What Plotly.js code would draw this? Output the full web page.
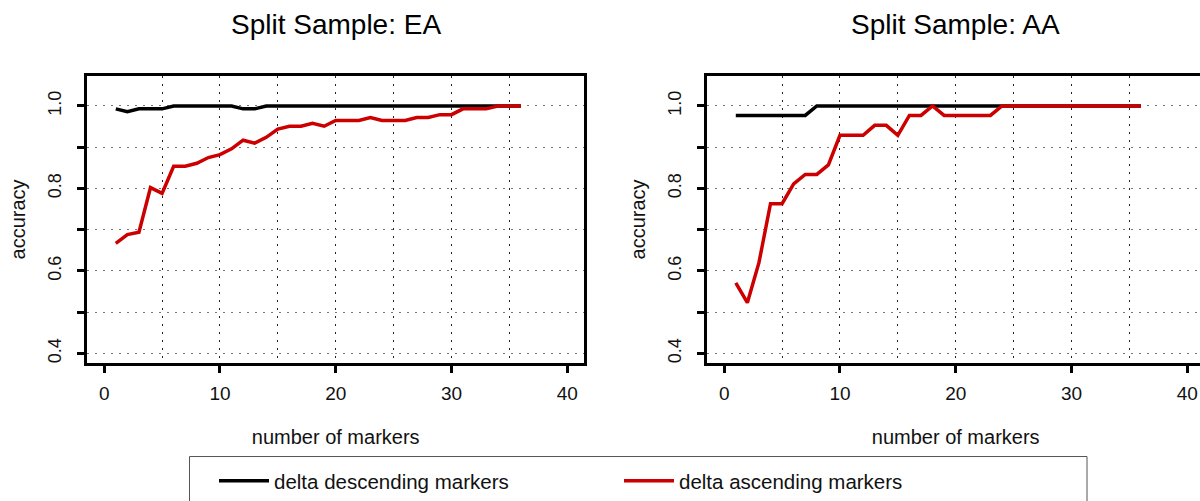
<!DOCTYPE html>
<html>
<head>
<meta charset="utf-8">
<script src="https://cdn.plot.ly/plotly-3.0.1.min.js"></script>
<style>
  html, body { margin: 0; padding: 0; overflow: hidden; background: #fff; }
  #chart { width: 1240px; height: 501px; }
</style>
</head>
<body>
<div id="chart"></div>
<script>
// ---- data ----
const markers = [1,2,3,4,5,6,7,8,9,10,11,12,13,14,15,16,17,18,19,20,21,22,23,24,25,26,27,28,29,30,31,32,33,34,35,36];

const eaDescending = [0.993,0.986,0.993,0.993,0.993,1,1,1,1,1,1,0.993,0.993,1,1,1,1,1,1,1,1,1,1,1,1,1,1,1,1,1,1,1,1,1,1,1];
const eaAscending  = [0.667,0.688,0.694,0.802,0.788,0.854,0.854,0.861,0.875,0.882,0.896,0.917,0.910,0.924,0.944,0.951,0.951,0.958,0.951,0.965,0.965,0.965,0.972,0.965,0.965,0.965,0.972,0.972,0.979,0.979,0.993,0.993,0.993,1,1,1];

const aaDescending = [0.977,0.977,0.977,0.977,0.977,0.977,0.977,1,1,1,1,1,1,1,1,1,1,1,1,1,1,1,1,1,1,1,1,1,1,1,1,1,1,1,1,1];
const aaAscending  = [0.571,0.523,0.620,0.763,0.763,0.811,0.834,0.834,0.857,0.929,0.929,0.929,0.953,0.953,0.929,0.977,0.977,1,0.977,0.977,0.977,0.977,0.977,1,1,1,1,1,1,1,1,1,1,1,1,1];

const panelTitles = ['Split Sample: EA', 'Split Sample: AA'];
const seriesNames = ['delta descending markers', 'delta ascending markers'];
const xTickVals = [0, 10, 20, 30, 40];
const xGridVals = [5, 10, 15, 20, 25, 30, 35];
const yTickVals = [0.4, 0.5, 0.6, 0.7, 0.8, 0.9, 1.0];
const yTickText = ['0.4', '', '0.6', '', '0.8', '', '1.0'];

// ---- layout geometry ----
const W = 1240, H = 501;
const FONT = 'Liberation Sans, Arial, Helvetica, sans-serif';
const BLACK = '#000000', RED = '#cc0000';

const leftDom = [87.2 / W, 584.2 / W];
const rightDom = [707.2 / W, 1204.2 / W];
const yDom = [(H - 367.8) / H, (H - 77.2) / H];
const xRange = [-1.47, 41.47];
const yRange = [0.3776, 1.0724];

function mk(x, y, name, color, xa, ya, show) {
  return { x: x, y: y, name: name, type: 'scatter', mode: 'lines',
    line: { color: color, width: 3.5 }, xaxis: xa, yaxis: ya,
    showlegend: show, legendgroup: name, hoverinfo: 'x+y+name' };
}

const traces = [
  mk(markers, eaDescending, seriesNames[0], BLACK, 'x', 'y', true),
  mk(markers, eaAscending, seriesNames[1], RED, 'x', 'y', true),
  mk(markers, aaDescending, seriesNames[0], BLACK, 'x2', 'y2', false),
  mk(markers, aaAscending, seriesNames[1], RED, 'x2', 'y2', false)
];

function xAxis(dom, anchor) {
  return {
    domain: dom, anchor: anchor, range: xRange, fixedrange: true,
    tickmode: 'array', tickvals: xTickVals, ticks: 'outside', ticklen: 7, tickwidth: 3,
    tickcolor: BLACK, showgrid: false, zeroline: false,
    showline: true, mirror: true, linecolor: BLACK, linewidth: 3,
    tickfont: { family: FONT, size: 19, color: '#111' },
    ticklabelstandoff: 5,
    minor: { tickmode: 'array', tickvals: xGridVals, ticks: '', showgrid: true,
             gridcolor: '#222', gridwidth: 1, griddash: '2px,6px' },
    title: { text: 'number of markers', font: { family: FONT, size: 20, color: '#111' }, standoff: 27 }
  };
}
function yAxis(anchor) {
  return {
    domain: yDom, anchor: anchor, range: yRange, fixedrange: true,
    tickmode: 'array', tickvals: yTickVals, ticktext: yTickText, tickangle: -90,
    ticks: 'outside', ticklen: 7, tickwidth: 3, tickcolor: BLACK,
    showgrid: true, gridcolor: '#777', gridwidth: 1, griddash: '2px,6px',
    zeroline: false, showline: true, mirror: true, linecolor: BLACK, linewidth: 3,
    tickfont: { family: FONT, size: 18, color: '#111' },
    ticklabelstandoff: 9,
    title: { text: 'accuracy', font: { family: FONT, size: 20, color: '#111' }, standoff: 14 }
  };
}

const layout = {
  width: W, height: H,
  margin: { l: 0, r: 0, t: 0, b: 0 },
  paper_bgcolor: '#ffffff', plot_bgcolor: '#ffffff',
  font: { family: FONT, color: '#111' },
  xaxis: xAxis(leftDom, 'y'),
  yaxis: yAxis('x'),
  xaxis2: xAxis(rightDom, 'y2'),
  yaxis2: yAxis('x2'),
  showlegend: true,
  legend: {
    orientation: 'h', x: 214 / W, xanchor: 'left', y: (H - 488) / H, yanchor: 'middle',
    font: { family: FONT, size: 20.5, color: '#111' },
    bgcolor: 'rgba(0,0,0,0)', borderwidth: 0,
    entrywidth: 340, entrywidthmode: 'pixels', itemwidth: 50, traceorder: 'normal'
  },
  shapes: [{
    type: 'rect', xref: 'paper', yref: 'paper',
    x0: 189.5 / W, x1: 1087 / W, y0: -0.1, y1: (H - 463) / H,
    line: { color: '#555', width: 1 }, fillcolor: 'rgba(0,0,0,0)', layer: 'below'
  }],
  annotations: panelTitles.map((t, i) => ({
    text: t, xref: 'paper', yref: 'paper', showarrow: false,
    x: i === 0 ? (leftDom[0] + leftDom[1]) / 2 : (rightDom[0] + rightDom[1]) / 2,
    y: (H - 25) / H, xanchor: 'center', yanchor: 'middle',
    font: { family: FONT, size: 28, color: '#000' }
  }))
};

Plotly.newPlot('chart', traces, layout, { staticPlot: true, displayModeBar: false, responsive: false });
</script>
</body>
</html>
